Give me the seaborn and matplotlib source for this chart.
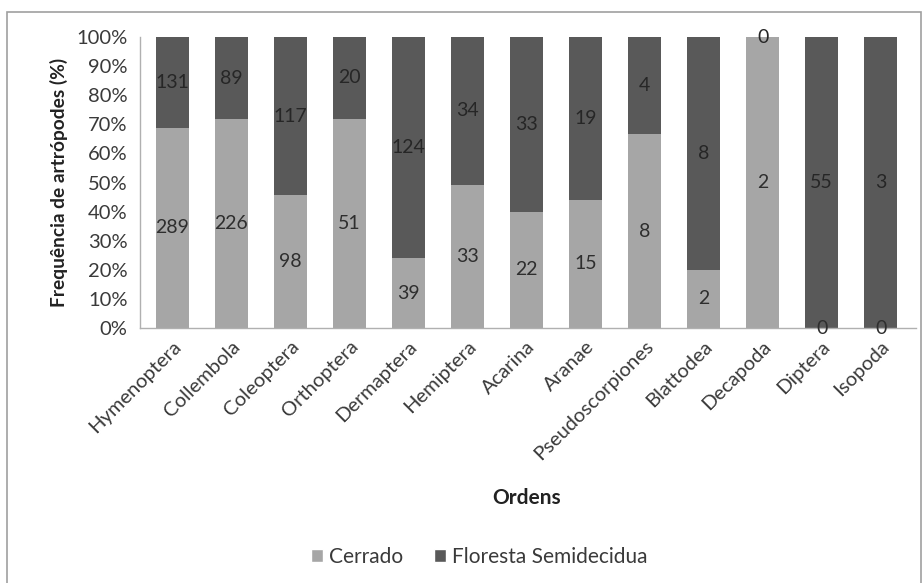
import matplotlib
matplotlib.use("Agg")
import matplotlib.pyplot as plt
from matplotlib.patches import Rectangle, Patch
import numpy as np
import pandas as pd
import seaborn as sns

# Counts of arthropods per order in each vegetation type
ordens = ["Hymenoptera", "Collembola", "Coleoptera", "Orthoptera", "Dermaptera",
          "Hemiptera", "Acarina", "Aranae", "Pseudoscorpiones", "Blattodea",
          "Decapoda", "Diptera", "Isopoda"]
cerrado = [289, 226, 98, 51, 39, 33, 22, 15, 8, 2, 2, 0, 0]
floresta = [131, 89, 117, 20, 124, 34, 33, 19, 4, 8, 0, 55, 3]
yticks = [0, 10, 20, 30, 40, 50, 60, 70, 80, 90, 100]

c_cer = "#a6a6a6"
c_flo = "#595959"
txt = "#3a3a3a"

sns.set_style("white")
plt.rcParams["font.family"] = ["Lato", "DejaVu Sans"]

df = pd.DataFrame({"ordem": ordens, "Cerrado": cerrado, "Floresta": floresta})
total = df["Cerrado"] + df["Floresta"]
df["pct_cer"] = df["Cerrado"] / total * 100
df["pct_flo"] = df["Floresta"] / total * 100
df["topo"] = df["pct_cer"] + df["pct_flo"]

fig = plt.figure(figsize=(9.22, 5.83), dpi=100)
ax = fig.add_axes([140 / 922, 1 - 328 / 583, (916 - 140) / 922, (328 - 37) / 583])

# stacked 100% bars: the upper segment first (full height), lower segment over it
sns.barplot(data=df, x="ordem", y="topo", color=c_flo, width=0.56,
            saturation=1, ax=ax, linewidth=0)
sns.barplot(data=df, x="ordem", y="pct_cer", color=c_cer, width=0.56,
            saturation=1, ax=ax, linewidth=0)

# segment labels with the raw counts
for i, row in df.iterrows():
    ax.text(i, row["pct_cer"] / 2, f"{row['Cerrado']}", ha="center", va="center",
            fontsize=14, color="#2e2e2e")
    ax.text(i, row["pct_cer"] + row["pct_flo"] / 2, f"{row['Floresta']}",
            ha="center", va="center", fontsize=14, color="#262626")

ax.set_xlim(-0.55, len(ordens) - 0.4)
ax.set_ylim(0, 100)
ax.set_yticks(yticks)
ax.set_yticklabels([f"{v}%" for v in yticks], fontsize=14.5, color=txt)
ax.set_xticks(range(len(ordens)))
ax.set_xticklabels(ordens, rotation=45, ha="right", rotation_mode="anchor",
                   fontsize=14.5, color=txt)
ax.tick_params(axis="y", direction="out", length=5, width=0.8, color="#b0b0b0", pad=4)
ax.tick_params(axis="x", length=0, pad=7)

for s in ["top", "right"]:
    ax.spines[s].set_visible(False)
for s in ["left", "bottom"]:
    ax.spines[s].set_color("#b0b0b0")
    ax.spines[s].set_linewidth(1.0)

ax.set_ylabel("Frequência de artrópodes (%)", fontsize=13.8, fontweight="bold",
              color="#222222", labelpad=6)
ax.set_xlabel("")
fig.text(527 / 922, 1 - 498 / 583, "Ordens", ha="center", va="center",
         fontsize=15, fontweight="bold", color="#222222")

handles = [Patch(facecolor=c_cer, label="Cerrado"),
           Patch(facecolor=c_flo, label="Floresta Semidecidua")]
fig.legend(handles=handles, loc="center", bbox_to_anchor=(479 / 922, 1 - 557 / 583),
           ncol=2, frameon=False, fontsize=15, handlelength=0.6, handleheight=0.6,
           handletextpad=0.25, columnspacing=1.5, labelcolor=txt)

# frame around the chart area
fig.add_artist(Rectangle((7 / 922, -0.05), (921 - 7) / 922, 1 - 12 / 583 + 0.05,
                         transform=fig.transFigure, fill=False,
                         edgecolor="#a0a0a0", linewidth=1.2))

fig.savefig("out.png", dpi=100)
